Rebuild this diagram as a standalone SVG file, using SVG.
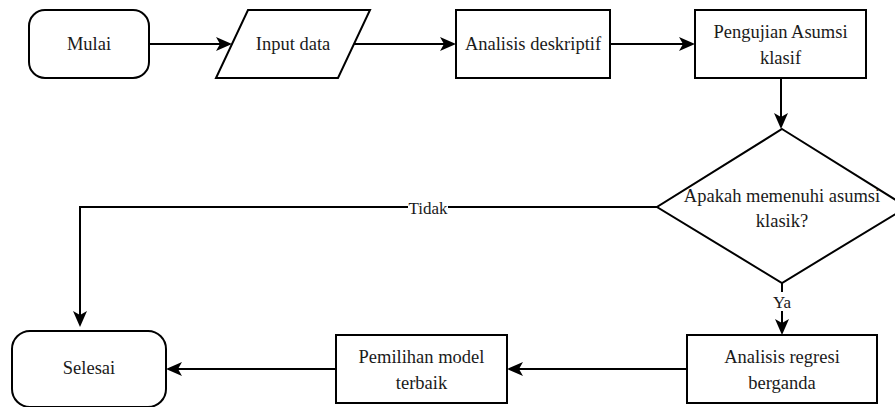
<svg xmlns="http://www.w3.org/2000/svg" width="895" height="407" viewBox="0 0 895 407">
  <style>
    .shape { fill: #ffffff; stroke: #000000; stroke-width: 2; }
    .edge { fill: none; stroke: #000000; stroke-width: 2; }
  </style>
  <defs>
    <marker id="arrow" viewBox="0 0 16 14" refX="4" refY="7" markerWidth="16" markerHeight="14" markerUnits="userSpaceOnUse" orient="auto">
      <path d="M0,0 L16,7 L0,14 L4,7 Z" fill="#000000"/>
    </marker>
  </defs>
  <rect width="895" height="407" fill="#ffffff"/>

  <g id="connectors">
    <line class="edge" x1="149" y1="44" x2="220" y2="44" marker-end="url(#arrow)"/>
    <line class="edge" x1="354" y1="44" x2="444" y2="44" marker-end="url(#arrow)"/>
    <line class="edge" x1="610" y1="44" x2="683" y2="44" marker-end="url(#arrow)"/>
    <line class="edge" x1="781" y1="78" x2="781" y2="117" marker-end="url(#arrow)"/>
    <line class="edge" x1="782" y1="283" x2="782" y2="323" marker-end="url(#arrow)"/>
    <line class="edge" x1="687" y1="369" x2="519" y2="369" marker-end="url(#arrow)"/>
    <line class="edge" x1="336" y1="369" x2="178" y2="369" marker-end="url(#arrow)"/>
    <polyline class="edge" points="657,207 80,207 80,315" marker-end="url(#arrow)"/>
    <!-- edge labels on white backing -->
    <rect x="408" y="198" width="40" height="19" fill="#ffffff"/>
    <text x="428" y="214" font-family="Liberation Serif" font-size="17" fill="#1a1a1a" text-anchor="middle">Tidak</text>
    <rect x="771" y="292" width="22" height="19" fill="#ffffff"/>
    <text x="782" y="308" font-family="Liberation Serif" font-size="17" fill="#1a1a1a" text-anchor="middle">Ya</text>
  </g>

  <g id="mulai">
    <rect class="shape" x="29" y="10" width="120" height="68" rx="16" ry="16"/>
    <text x="89" y="50" font-family="Liberation Serif" font-size="18.5" fill="#1a1a1a" text-anchor="middle">Mulai</text>
  </g>

  <g id="input-data">
    <polygon class="shape" points="248,10 370,10 338,78 216,78"/>
    <text x="293" y="50" font-family="Liberation Serif" font-size="18.5" fill="#1a1a1a" text-anchor="middle">Input data</text>
  </g>

  <g id="analisis-deskriptif">
    <rect class="shape" x="456" y="10" width="154" height="68"/>
    <text x="533" y="50" font-family="Liberation Serif" font-size="18.5" fill="#1a1a1a" text-anchor="middle">Analisis deskriptif</text>
  </g>

  <g id="pengujian-asumsi">
    <rect class="shape" x="695" y="10" width="171" height="68"/>
    <text x="780.5" y="38" font-family="Liberation Serif" font-size="18.5" fill="#1a1a1a" text-anchor="middle">Pengujian Asumsi</text>
    <text x="780.5" y="64" font-family="Liberation Serif" font-size="18.5" fill="#1a1a1a" text-anchor="middle">klasif</text>
  </g>

  <g id="keputusan-asumsi">
    <polygon class="shape" points="782,129 907,207 782,283 657,207"/>
    <text x="782" y="202" font-family="Liberation Serif" font-size="18.5" fill="#1a1a1a" text-anchor="middle">Apakah memenuhi asumsi</text>
    <text x="782" y="227" font-family="Liberation Serif" font-size="18.5" fill="#1a1a1a" text-anchor="middle">klasik?</text>
  </g>

  <g id="analisis-regresi">
    <rect class="shape" x="687" y="335" width="190" height="68"/>
    <text x="782" y="363" font-family="Liberation Serif" font-size="18.5" fill="#1a1a1a" text-anchor="middle">Analisis regresi</text>
    <text x="782" y="389" font-family="Liberation Serif" font-size="18.5" fill="#1a1a1a" text-anchor="middle">berganda</text>
  </g>

  <g id="pemilihan-model">
    <rect class="shape" x="336" y="335" width="171" height="68"/>
    <text x="421.5" y="363" font-family="Liberation Serif" font-size="18.5" fill="#1a1a1a" text-anchor="middle">Pemilihan model</text>
    <text x="421.5" y="389" font-family="Liberation Serif" font-size="18.5" fill="#1a1a1a" text-anchor="middle">terbaik</text>
  </g>

  <g id="selesai">
    <rect class="shape" x="12" y="331" width="154" height="76" rx="18" ry="18"/>
    <text x="89" y="374" font-family="Liberation Serif" font-size="18.5" fill="#1a1a1a" text-anchor="middle">Selesai</text>
  </g>
</svg>
